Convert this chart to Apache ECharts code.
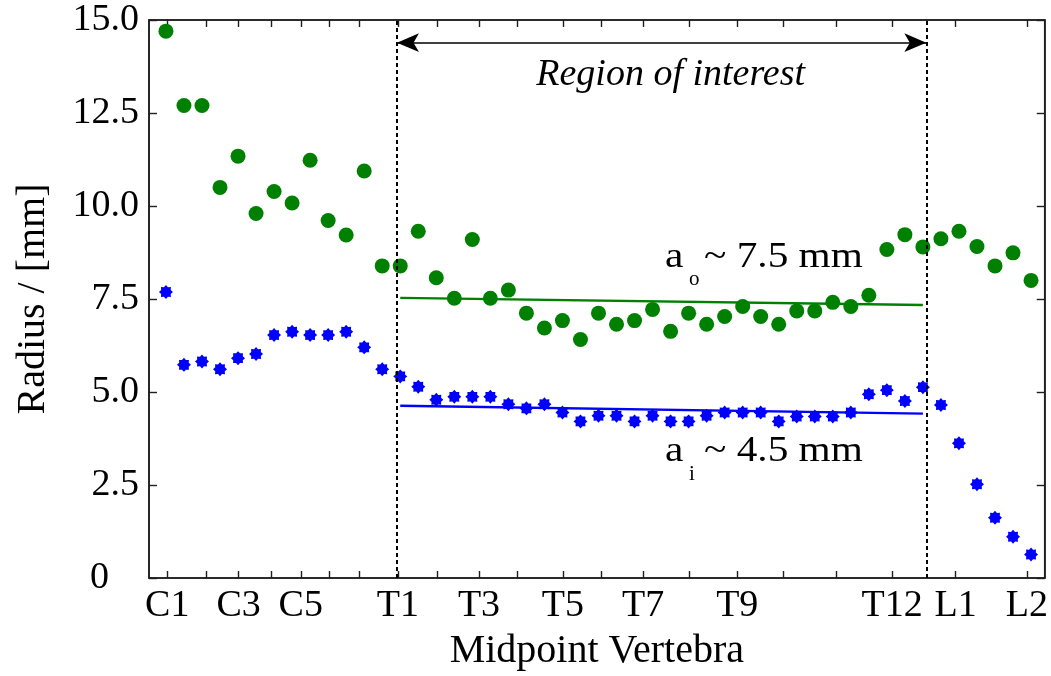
<!DOCTYPE html>
<html>
<head>
<meta charset="utf-8">
<script src="https://cdn.jsdelivr.net/npm/echarts@6/dist/echarts.min.js"></script>
<style>
  html, body { margin: 0; padding: 0; background: #fff; }
  #chart { width: 1051px; height: 676px; }
</style>
</head>
<body>
<div id="chart"></div>
<script>
// Vertebra levels and their positions along the midpoint index axis
const vertebrae = ['C1','C2','C3','C4','C5','C6','C7','T1','T2','T3','T4','T5','T6','T7','T8','T9','T10','T11','T12','L1','L2'];
const vertebraPos = [0.07, 2.21, 4.03, 5.86, 7.48, 9.08, 10.70, 12.87, 15.06, 17.37, 19.50, 22.02, 24.13, 26.48, 29.01, 31.70, 34.25, 37.19, 40.29, 43.81, 47.77];
const labeledVertebrae = ['C1','C3','C5','T1','T3','T5','T7','T9','T12','L1','L2'];

// Outer radius (green) and inner radius (blue), one value per midpoint, in mm
const outerRadius = [14.7, 12.7, 12.7, 10.5, 11.34, 9.8, 10.39, 10.08, 11.23, 9.61, 9.22, 10.94, 8.39, 8.39, 9.32, 8.07, 7.52, 9.1, 7.52, 7.74, 7.12, 6.72, 6.92, 6.41, 7.12, 6.82, 6.92, 7.22, 6.63, 7.12, 6.82, 7.03, 7.3, 7.03, 6.82, 7.18, 7.18, 7.41, 7.3, 7.6, 8.83, 9.23, 8.9, 9.12, 9.32, 8.91, 8.39, 8.74, 8.0];
const innerRadius = [7.69, 5.73, 5.82, 5.61, 5.91, 6.02, 6.53, 6.62, 6.53, 6.53, 6.62, 6.2, 5.61, 5.42, 5.14, 4.79, 4.87, 4.87, 4.87, 4.67, 4.56, 4.67, 4.45, 4.21, 4.36, 4.36, 4.21, 4.36, 4.21, 4.21, 4.36, 4.45, 4.45, 4.45, 4.21, 4.34, 4.34, 4.34, 4.45, 4.94, 5.05, 4.76, 5.13, 4.65, 3.62, 2.52, 1.62, 1.11, 0.63];

// Linear fits across the region of interest
const fitRange = [13, 42];
const outerFit = [7.53, 7.34];
const innerFit = [4.63, 4.42];

// Region of interest bounds and arrow height
const roiBounds = [12.82, 42.19];
const arrowLevel = 14.39;

const FONT = "'Liberation Serif', 'DejaVu Serif', 'Times New Roman', serif";
const AXIS_COLOR = '#1e1e1e';

function starPath(n, rOut, rIn) {
  const pts = [];
  for (let k = 0; k < 2 * n; k++) {
    const r = k % 2 === 0 ? rOut : rIn;
    const a = Math.PI * k / n - Math.PI / 2;
    pts.push((50 + 50 * r * Math.cos(a)).toFixed(2) + ' ' + (50 + 50 * r * Math.sin(a)).toFixed(2));
  }
  return 'path://M' + pts.join(' L') + ' Z';
}

const labeledPos = labeledVertebrae.map(name => vertebraPos[vertebrae.indexOf(name)]);
function vertebraName(v) {
  const i = vertebraPos.findIndex(p => Math.abs(p - v) < 1e-6);
  return i >= 0 ? vertebrae[i] : '';
}

const xMin = -0.94, xMax = 48.76;

const chart = echarts.init(document.getElementById('chart'), null, { renderer: 'canvas' });

const baseX = {
  type: 'value', min: xMin, max: xMax,
  splitLine: { show: false },
  axisLine: { show: true, onZero: false, lineStyle: { color: AXIS_COLOR, width: 1.6 } },
  axisTick: { show: true, inside: true, length: 7, customValues: vertebraPos, lineStyle: { color: AXIS_COLOR, width: 1.4 } }
};
const baseY = {
  type: 'value', min: 0, max: 15, interval: 2.5,
  splitLine: { show: false },
  axisLine: { show: true, onZero: false, lineStyle: { color: AXIS_COLOR, width: 1.6 } },
  axisTick: { show: true, inside: true, length: 8, lineStyle: { color: AXIS_COLOR, width: 1.4 } }
};

const option = {
  backgroundColor: '#ffffff',
  animation: false,
  grid: { left: 149, right: 1, top: 20, bottom: 94.5, containLabel: false,
          show: true, borderColor: AXIS_COLOR, borderWidth: 1.6, backgroundColor: 'transparent' },
  xAxis: [
    Object.assign({}, baseX, {
      position: 'bottom',
      name: 'Midpoint Vertebra', nameLocation: 'middle', nameGap: 53,
      nameTextStyle: { fontFamily: FONT, fontSize: 40, color: '#000' },
      axisLabel: {
        customValues: labeledPos, margin: 9, fontFamily: FONT, fontSize: 38, color: '#000',
        formatter: vertebraName
      }
    }),
    Object.assign({}, baseX, { position: 'top', axisLabel: { show: false } })
  ],
  yAxis: [
    Object.assign({}, baseY, {
      position: 'left',
      name: 'Radius / [mm]', nameLocation: 'middle', nameGap: 96,
      nameTextStyle: { fontFamily: FONT, fontSize: 40, color: '#000' },
      axisLabel: {
        margin: 10, fontFamily: FONT, fontSize: 38, color: '#000',
        formatter: v => v === 0 ? '{z|0}' : v.toFixed(1),
        rich: { z: { fontFamily: FONT, fontSize: 38, color: '#000', padding: [0, 30, 0, 0] } }
      }
    }),
    Object.assign({}, baseY, { position: 'right', axisLabel: { show: false } })
  ],
  series: [
    {
      name: 'Outer radius', type: 'scatter',
      data: outerRadius.map((v, i) => [i, v]),
      symbol: 'circle', symbolSize: 15,
      itemStyle: { color: '#008000', opacity: 1 }, z: 3,
      markLine: {
        silent: true, symbol: ['arrow', 'arrow'], symbolSize: [14, 22],
        lineStyle: { color: '#000', width: 1.7, type: 'solid', opacity: 1 },
        label: { show: false },
        data: [[{ coord: [roiBounds[0], arrowLevel] }, { coord: [roiBounds[1], arrowLevel] }]]
      }
    },
    {
      name: 'Inner radius', type: 'scatter',
      data: innerRadius.map((v, i) => [i, v]),
      symbol: starPath(8, 1, 0.74), symbolSize: 14,
      itemStyle: { color: '#0000ff', opacity: 1 }, z: 3,
      markLine: {
        silent: true, symbol: 'none',
        lineStyle: { color: '#000', width: 2, type: [4, 3], opacity: 1 },
        label: { show: false },
        data: roiBounds.map(b => ({ xAxis: b }))
      }
    },
    {
      name: 'Outer fit', type: 'line', showSymbol: false, symbol: 'none',
      xAxisIndex: 1, yAxisIndex: 1,
      data: fitRange.map((x, k) => [x, outerFit[k]]),
      lineStyle: { color: '#008000', width: 2.4 }, z: 2
    },
    {
      name: 'Inner fit', type: 'line', showSymbol: false, symbol: 'none',
      xAxisIndex: 1, yAxisIndex: 1,
      data: fitRange.map((x, k) => [x, innerFit[k]]),
      lineStyle: { color: '#0000ff', width: 2.4 }, z: 2
    }
  ]
};

chart.setOption(option);

// Text annotations placed from data coordinates
function px(pt) { return chart.convertToPixel({ xAxisIndex: 0, yAxisIndex: 0 }, pt); }
function annotation(anchor, sub, rest) {
  const p = px(anchor);
  const font = '35px ' + FONT;
  return [
    { type: 'text', x: p[0], y: p[1], scaleX: 1.18, style: { text: 'a', font: font, fill: '#000', align: 'left', verticalAlign: 'middle' } },
    { type: 'text', x: p[0] + 24, y: p[1] + 22, style: { text: sub, font: '21px ' + FONT, fill: '#000', align: 'left', verticalAlign: 'middle' } },
    { type: 'text', x: p[0] + 39, y: p[1], scaleX: 1.18, style: { text: rest, font: font, fill: '#000', align: 'left', verticalAlign: 'middle' } }
  ];
}
const roiCenter = px([(roiBounds[0] + roiBounds[1]) / 2 + 0.5, 13.52]);
chart.setOption({
  graphic: [
    { type: 'text', x: roiCenter[0], y: roiCenter[1], style: { text: 'Region of interest', font: 'italic 38px ' + FONT, fill: '#000', align: 'center', verticalAlign: 'middle' } }
  ].concat(annotation([27.69, 8.62], 'o', '~ 7.5 mm'), annotation([27.69, 3.38], 'i', '~ 4.5 mm'))
});
</script>
</body>
</html>
